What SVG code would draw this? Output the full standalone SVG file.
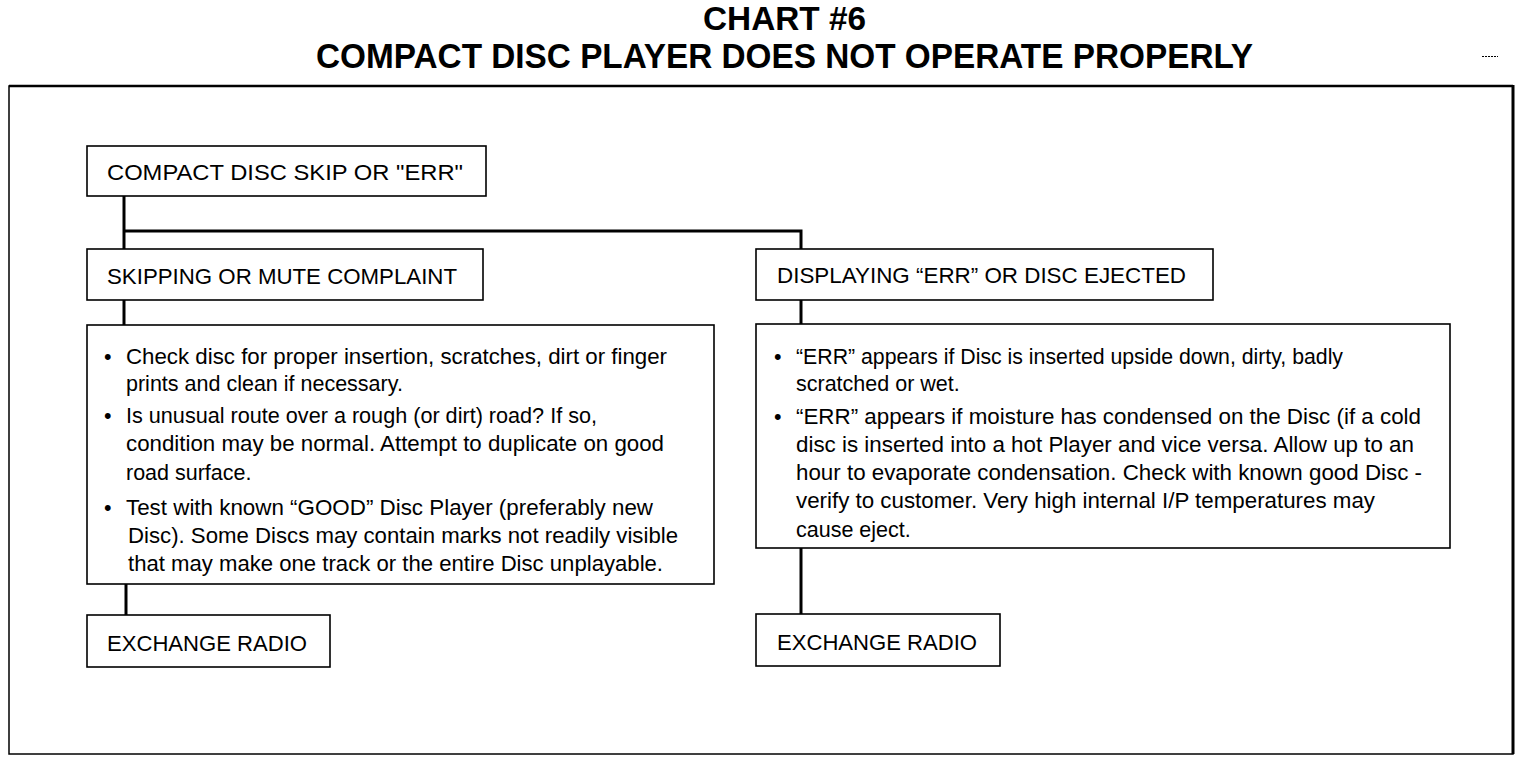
<svg xmlns="http://www.w3.org/2000/svg" width="1536" height="762" viewBox="0 0 1536 762">
<style>
.box{fill:#fff;stroke:#000;stroke-width:1.6}
.lbl{font-family:"Liberation Sans",Arial,sans-serif;font-size:22px;fill:#000}
.body{font-family:"Liberation Sans",Arial,sans-serif;font-size:21.5px;fill:#000}
.title{font-family:"Liberation Sans",Arial,sans-serif;font-weight:bold;fill:#000}
.conn{fill:none;stroke:#000;stroke-width:3}
</style>
<rect width="1536" height="762" fill="#fff"/>
<g id="title">
<text class="title" x="703" y="30" font-size="33" textLength="163" lengthAdjust="spacingAndGlyphs">CHART #6</text>
<text class="title" x="316" y="68" font-size="35" textLength="937" lengthAdjust="spacingAndGlyphs">COMPACT DISC PLAYER DOES NOT OPERATE PROPERLY</text>
<line x1="1482" y1="56.5" x2="1498" y2="56.5" stroke="#000" stroke-width="1" stroke-dasharray="2 1"/>
</g>
<g id="frame">
<rect x="9" y="86" width="1504" height="668" fill="none" stroke="#000" stroke-width="1.5"/>
<line x1="9" y1="86" x2="1513" y2="86" stroke="#000" stroke-width="2.5"/>
<line x1="1513" y1="85" x2="1513" y2="754" stroke="#000" stroke-width="3"/>
</g>
<g id="connectors">
<path class="conn" d="M124 196 V249"/>
<path class="conn" d="M124 231 H801 V249"/>
<path class="conn" d="M124 300 V325"/>
<path class="conn" d="M126 584 V615"/>
<path class="conn" d="M801 300 V324"/>
<path class="conn" d="M801 548 V614"/>
</g>
<g id="start">
<rect class="box" x="87" y="146" width="399" height="50"/>
<text class="lbl" x="107" y="180" textLength="356" lengthAdjust="spacingAndGlyphs">COMPACT DISC SKIP OR "ERR"</text>
</g>
<g id="skipping">
<rect class="box" x="87" y="249" width="396" height="51"/>
<text class="lbl" x="107" y="284" textLength="350" lengthAdjust="spacingAndGlyphs">SKIPPING OR MUTE COMPLAINT</text>
</g>
<g id="displaying">
<rect class="box" x="756" y="249" width="457" height="51"/>
<text class="lbl" x="777" y="283" textLength="409" lengthAdjust="spacingAndGlyphs">DISPLAYING “ERR” OR DISC EJECTED</text>
</g>
<g id="checks-left">
<rect class="box" x="87" y="325" width="627" height="259"/>
<text class="body" x="104" y="364">•</text>
<text class="body" x="126" y="364" textLength="541" lengthAdjust="spacingAndGlyphs">Check disc for proper insertion, scratches, dirt or finger</text>
<text class="body" x="126" y="391">prints and clean if necessary.</text>
<text class="body" x="104" y="423">•</text>
<text class="body" x="126" y="423" textLength="471" lengthAdjust="spacingAndGlyphs">Is unusual route over a rough (or dirt) road? If so,</text>
<text class="body" x="126" y="451" textLength="538" lengthAdjust="spacingAndGlyphs">condition may be normal. Attempt to duplicate on good</text>
<text class="body" x="126" y="480">road surface.</text>
<text class="body" x="104" y="515">•</text>
<text class="body" x="126" y="515" textLength="527" lengthAdjust="spacingAndGlyphs">Test with known “GOOD” Disc Player (preferably new</text>
<text class="body" x="128" y="543" textLength="550" lengthAdjust="spacingAndGlyphs">Disc). Some Discs may contain marks not readily visible</text>
<text class="body" x="128" y="571" textLength="535" lengthAdjust="spacingAndGlyphs">that may make one track or the entire Disc unplayable.</text>
</g>
<g id="checks-right">
<rect class="box" x="756" y="324" width="694" height="224"/>
<text class="body" x="774" y="364">•</text>
<text class="body" x="796" y="364" textLength="547" lengthAdjust="spacingAndGlyphs">“ERR” appears if Disc is inserted upside down, dirty, badly</text>
<text class="body" x="796" y="391">scratched or wet.</text>
<text class="body" x="774" y="424">•</text>
<text class="body" x="796" y="424" textLength="625" lengthAdjust="spacingAndGlyphs">“ERR” appears if moisture has condensed on the Disc (if a cold</text>
<text class="body" x="796" y="452" textLength="618" lengthAdjust="spacingAndGlyphs">disc is inserted into a hot Player and vice versa. Allow up to an</text>
<text class="body" x="796" y="480" textLength="626" lengthAdjust="spacingAndGlyphs">hour to evaporate condensation. Check with known good Disc -</text>
<text class="body" x="796" y="508" textLength="579" lengthAdjust="spacingAndGlyphs">verify to customer. Very high internal I/P temperatures may</text>
<text class="body" x="796" y="537">cause eject.</text>
</g>
<g id="exchange-left">
<rect class="box" x="87" y="615" width="243" height="52"/>
<text class="lbl" x="107" y="651" textLength="200" lengthAdjust="spacingAndGlyphs">EXCHANGE RADIO</text>
</g>
<g id="exchange-right">
<rect class="box" x="756" y="614" width="244" height="52"/>
<text class="lbl" x="777" y="650" textLength="200" lengthAdjust="spacingAndGlyphs">EXCHANGE RADIO</text>
</g>
</svg>
